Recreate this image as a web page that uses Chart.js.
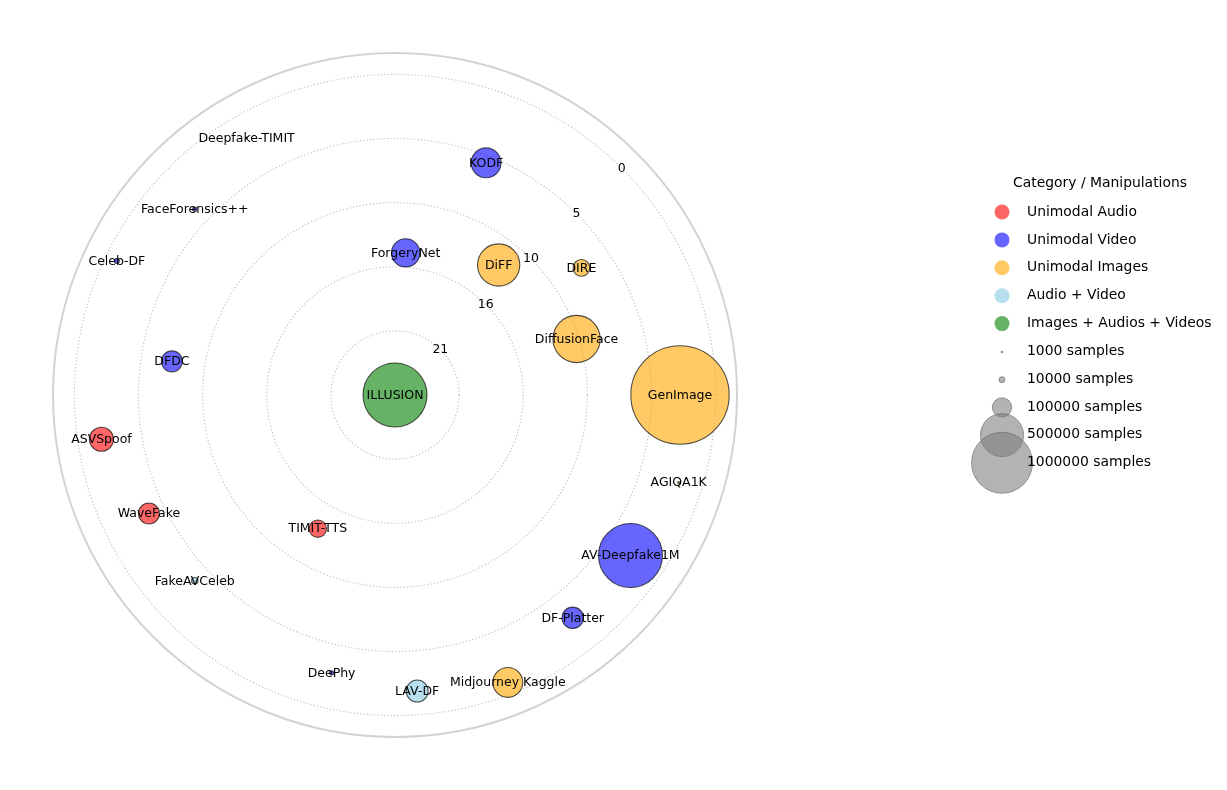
<!DOCTYPE html>
<html>
<head>
<meta charset="utf-8">
<script src="https://cdn.jsdelivr.net/npm/chart.js@4.4.1/dist/chart.umd.min.js"></script>
<style>
  html, body { margin: 0; padding: 0; background: #fff; }
  canvas { display: block; }
</style>
</head>
<body>
<canvas id="datasetChart" width="1227" height="790" style="width:1227px;height:790px"></canvas>
<script>
// datasets, in the order they go round the circle (counter-clockwise from 3 o'clock)
const names = [
  "GenImage", "DiffusionFace", "DIRE", "DiFF", "KODF", "ForgeryNet", "ILLUSION",
  "Deepfake-TIMIT", "FaceForensics++", "Celeb-DF", "DFDC", "ASVSpoof", "WaveFake",
  "FakeAVCeleb", "TIMIT-TTS", "DeePhy", "LAV-DF", "Midjourney Kaggle", "DF-Platter",
  "AV-Deepfake1M", "AGIQA1K"
];
// 0 audio, 1 video, 2 images, 3 audio+video, 4 images+audios+videos
const categories = [2, 2, 2, 2, 1, 1, 4, 1, 1, 1, 1, 0, 0, 3, 0, 1, 3, 2, 1, 1, 2];
const manipulations = [3, 11, 8, 13, 6, 15, 27, 2, 4, 1, 8, 2, 4, 4, 14, 3, 2, 1, 3, 3, 2];
const samples = [
  2600000, 600000, 75000, 480000, 240000, 216000, 1100000,
  640, 5000, 6500, 118000, 155000, 118000,
  11000, 81000, 5000, 130000, 240000, 123000,
  1100000, 1080
];

const categoryNames = ["Unimodal Audio", "Unimodal Video", "Unimodal Images", "Audio + Video", "Images + Audios + Videos"];
const categoryColors = ["rgba(255,0,0,0.6)", "rgba(0,0,255,0.6)", "rgba(255,165,0,0.6)", "rgba(135,200,225,0.6)", "rgba(0,128,0,0.6)"];
const sizeLegend = [1000, 10000, 100000, 500000, 1000000];

// radial axis: centre = most manipulations, outside = none
const maxManip = 27;
const rTickValues = [21.6, 16.2, 10.8, 5.4, 0];
const rTickLabels = ["21", "16", "10", "5", "0"];
const rOuter = 28.8;

const FONT = "'DejaVu Sans', sans-serif";
const bubbleSize = (s) => 30.5 * Math.sqrt(s / 1000000);

const datasets = categoryNames.map((cat, c) => ({
  label: cat,
  data: [],
  backgroundColor: categoryColors[c],
  borderColor: "rgba(0,0,0,0.68)",
  borderWidth: 1.1,
  clip: false,
}));
names.forEach((name, i) => {
  const theta = (i * 2 * Math.PI) / names.length;
  const r = maxManip - manipulations[i];
  datasets[categories[i]].data.push({
    x: r * Math.cos(theta),
    y: r * Math.sin(theta),
    r: bubbleSize(samples[i]),
    name: name,
  });
});

const polarDecor = {
  id: "polarDecor",
  beforeDatasetsDraw(chart) {
    const { ctx, scales: { x, y } } = chart;
    const cx = x.getPixelForValue(0), cy = y.getPixelForValue(0);
    const px = (v) => x.getPixelForValue(maxManip - v) - cx;
    ctx.save();
    ctx.strokeStyle = "#bdbdbd";
    ctx.lineWidth = 1.1;
    ctx.setLineDash([1.2, 2.2]);
    rTickValues.forEach((v) => {
      ctx.beginPath();
      ctx.arc(cx, cy, px(v), 0, 2 * Math.PI);
      ctx.stroke();
    });
    ctx.setLineDash([]);
    ctx.strokeStyle = "#d3d3d3";
    ctx.lineWidth = 2;
    ctx.beginPath();
    ctx.arc(cx, cy, x.getPixelForValue(rOuter) - cx, 0, 2 * Math.PI);
    ctx.stroke();
    ctx.restore();
  },
  afterDatasetsDraw(chart) {
    const { ctx, scales: { x, y } } = chart;
    const cx = x.getPixelForValue(0), cy = y.getPixelForValue(0);
    ctx.save();
    ctx.fillStyle = "#000";
    ctx.textAlign = "center";
    ctx.textBaseline = "middle";

    // tick labels along 45 degrees
    ctx.font = "12.5px " + FONT;
    rTickValues.forEach((v, i) => {
      const d = x.getPixelForValue(maxManip - v) - cx;
      ctx.fillText(rTickLabels[i], cx + d * Math.SQRT1_2, cy - d * Math.SQRT1_2);
    });

    // dataset names on the bubbles
    chart.data.datasets.forEach((ds, di) => {
      chart.getDatasetMeta(di).data.forEach((pt, j) => {
        ctx.fillText(ds.data[j].name, pt.x, pt.y + 0.5);
      });
    });

    // legend
    const lx = 1002, tx = 1027;
    ctx.font = "13.9px " + FONT;
    ctx.fillText("Category / Manipulations", 1100, 183);
    ctx.textAlign = "left";
    let rowY = 212;
    categoryNames.forEach((cat, c) => {
      ctx.fillStyle = categoryColors[c];
      ctx.beginPath();
      ctx.arc(lx, rowY, 7.5, 0, 2 * Math.PI);
      ctx.fill();
      ctx.fillStyle = "#000";
      ctx.fillText(cat, tx, rowY);
      rowY += 27.9;
    });
    sizeLegend.forEach((s) => {
      ctx.fillStyle = "rgba(128,128,128,0.6)";
      ctx.strokeStyle = "rgba(100,100,100,0.6)";
      ctx.lineWidth = 1;
      ctx.beginPath();
      ctx.arc(lx, rowY + 0.5, bubbleSize(s), 0, 2 * Math.PI);
      ctx.fill();
      ctx.stroke();
      ctx.fillStyle = "#000";
      ctx.fillText(s + " samples", tx, rowY);
      rowY += 27.7;
    });
    ctx.restore();
  },
};

new Chart(document.getElementById("datasetChart"), {
  type: "bubble",
  data: { datasets: datasets },
  options: {
    responsive: false,
    animation: false,
    events: [],
    layout: { padding: { left: 53, top: 53, right: 490, bottom: 53 } },
    scales: {
      x: { type: "linear", min: -rOuter, max: rOuter, display: false },
      y: { type: "linear", min: -rOuter, max: rOuter, display: false },
    },
    plugins: {
      legend: { display: false },
      tooltip: { enabled: false },
    },
  },
  plugins: [polarDecor],
});
</script>
</body>
</html>
